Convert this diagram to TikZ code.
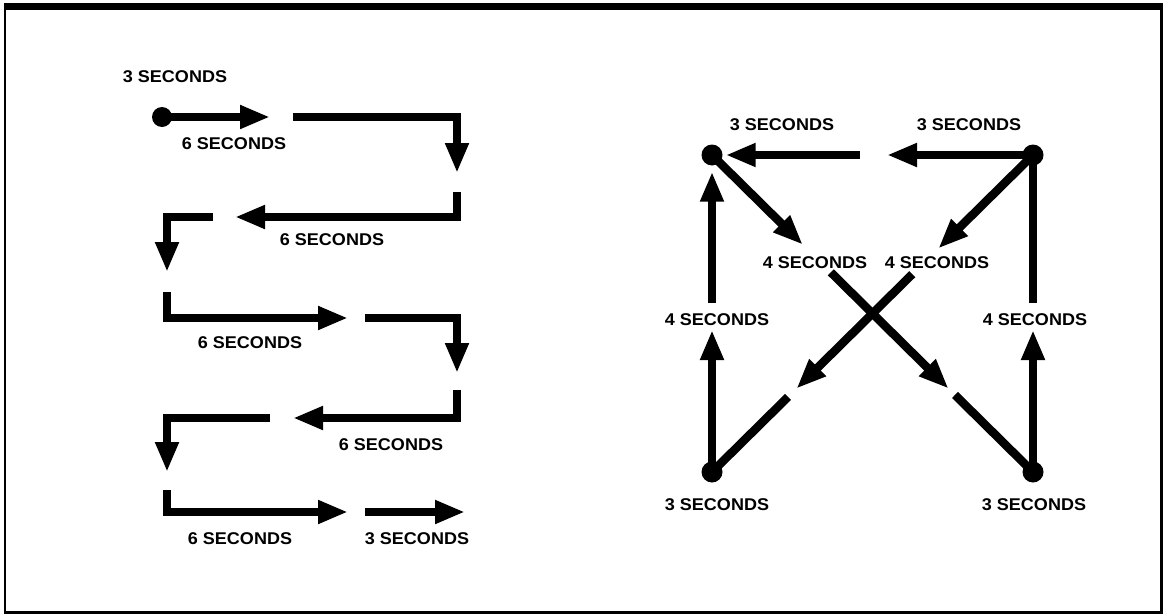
\documentclass[tikz,border=0pt]{standalone}
\usepackage{fontspec}
\newfontfamily\secfont[FakeStretch=1.06]{Liberation Sans}
\usetikzlibrary{arrows.meta,calc}

\tikzset{
  leg/.style={line width=8.5pt, -{Triangle[length=30pt,width=22pt]}},
  bare/.style={line width=8.5pt},
  dot/.style={circle, fill=black, inner sep=0pt, minimum size=21pt},
  secs/.style={font=\secfont\bfseries\fontsize{17}{19}\selectfont, inner sep=0pt}
}

\begin{document}
\begin{tikzpicture}[x=1pt, y=-1pt]
\useasboundingbox (0,0) rectangle (1168,616);

% Frame
\draw[line width=7pt] (4,6.5) -- (1163,6.5);
\draw[line width=2pt] (5,3) -- (5,613);
\draw[line width=3pt] (1161,3) -- (1161,614);
\draw[line width=3pt] (4,612.5) -- (1163,612.5);

% Left: back and forth
\node[dot, minimum size=20pt] (start) at (162,117) {};
\coordinate (s1b) at (270,117);
\coordinate (s2a) at (293,117);  \coordinate (s2b) at (457,173);
\coordinate (s3a) at (457,192);  \coordinate (s3b) at (235,217);
\coordinate (s4a) at (213,217);  \coordinate (s4b) at (167,272);
\coordinate (s5a) at (167,292);  \coordinate (s5b) at (348,318);
\coordinate (s6a) at (365,318);  \coordinate (s6b) at (457,373);
\coordinate (s7a) at (457,390);  \coordinate (s7b) at (293,418);
\coordinate (s8a) at (270,418);  \coordinate (s8b) at (167,472);
\coordinate (s9a) at (167,490);  \coordinate (s9b) at (348,512);
\coordinate (s10a) at (365,512); \coordinate (s10b) at (465,512);

\draw[leg] (start.center) -- (s1b);
\draw[leg] (s2a) -| (s2b);
\draw[leg] (s3a) |- (s3b);
\draw[leg] (s4a) -| (s4b);
\draw[leg] (s5a) |- (s5b);
\draw[leg] (s6a) -| (s6b);
\draw[leg] (s7a) |- (s7b);
\draw[leg] (s8a) -| (s8b);
\draw[leg] (s9a) |- (s9b);
\draw[leg] (s10a) -- (s10b);

\node[secs] (l0) at (175,77)  {3 SECONDS};
\node[secs] (l1) at (234,144) {6 SECONDS};
\node[secs] (l2) at (332,240) {6 SECONDS};
\node[secs] (l3) at (250,343) {6 SECONDS};
\node[secs] (l4) at (391,445) {6 SECONDS};
\node[secs] (l5) at (240,539) {6 SECONDS};
\node[secs] (l6) at (417,539) {3 SECONDS};

% Right: square with cross
\node[dot] (tl) at (712,155) {};
\node[dot] (tr) at (1033,155) {};
\node[dot] (bl) at (712,472) {};
\node[dot] (br) at (1033,472) {};

\coordinate (top1) at (887,155);
\coordinate (top2) at (860,155);
\coordinate (dn1) at ($(tl)!0.283!(br)$);
\coordinate (dn2) at ($(tl)!0.370!(br)$);
\coordinate (dn3) at ($(tl)!0.737!(br)$);
\coordinate (dn4) at ($(tl)!0.757!(br)$);
\coordinate (up1) at ($(tr)!0.295!(bl)$);
\coordinate (up2) at ($(tr)!0.376!(bl)$);
\coordinate (up3) at ($(tr)!0.737!(bl)$);
\coordinate (up4) at ($(tr)!0.763!(bl)$);
\coordinate (lv1) at (712,330);
\coordinate (lv2) at (712,303);
\coordinate (rv1) at (1033,330);
\coordinate (rv2) at (1033,303);

\draw[leg] (tr.center) -- (top1);
\draw[leg, shorten >=3pt] (top2) -- (tl);
\draw[leg] (tl.center) -- (dn1);
\draw[leg] (dn2) -- (dn3);
\draw[bare] (dn4) -- (br.center);
\draw[leg] (tr.center) -- (up1);
\draw[leg] (up2) -- (up3);
\draw[bare] (up4) -- (bl.center);
\draw[leg] (bl.center) -- (lv1);
\draw[leg, shorten >=6pt] (lv2) -- (tl);
\draw[leg] (br.center) -- (rv1);
\draw[bare] (rv2) -- (tr.center);

\node[secs] (r0) at (782,125)  {3 SECONDS};
\node[secs] (r1) at (969,125)  {3 SECONDS};
\node[secs] (r2) at (815,263)  {4 SECONDS};
\node[secs] (r3) at (937,263)  {4 SECONDS};
\node[secs] (r4) at (717,320)  {4 SECONDS};
\node[secs] (r5) at (1035,320) {4 SECONDS};
\node[secs] (r6) at (717,505)  {3 SECONDS};
\node[secs] (r7) at (1034,505) {3 SECONDS};

\end{tikzpicture}
\end{document}
